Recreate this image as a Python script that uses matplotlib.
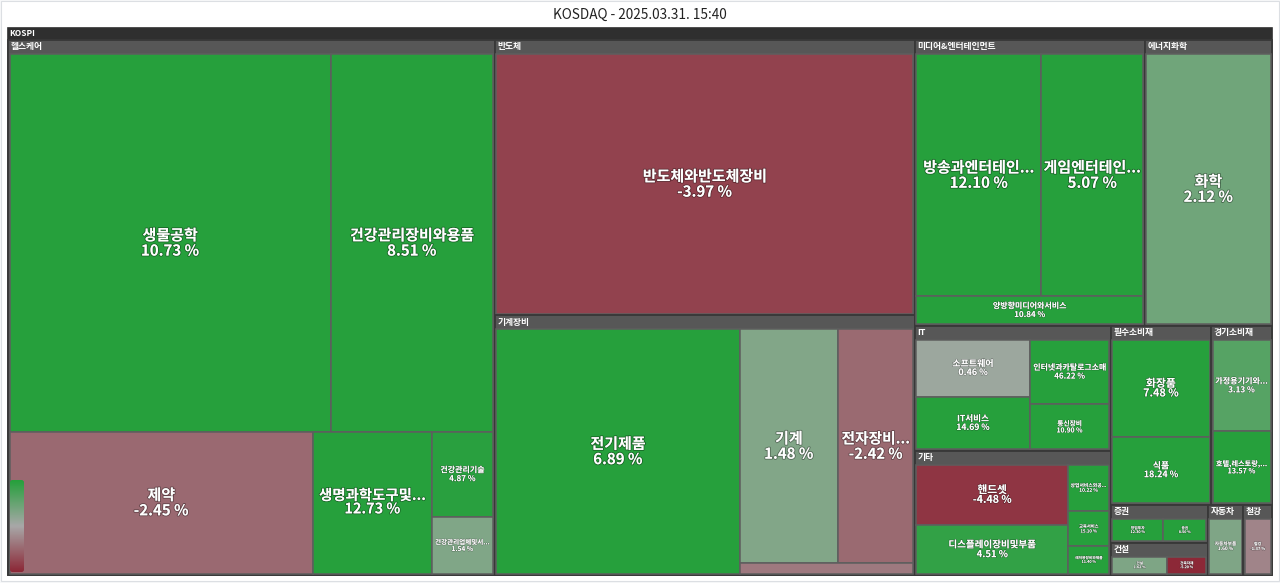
import numpy as np
import matplotlib
matplotlib.use("Agg")
import matplotlib.pyplot as plt
from matplotlib.patches import Rectangle, FancyBboxPatch
from matplotlib.colors import LinearSegmentedColormap
import matplotlib.patheffects as pe

plt.rcParams['font.family'] = ['Noto Sans CJK KR', 'DejaVu Sans']

# 업종(섹터) 목록
sectors = ['헬스케어', '반도체', '기계장비', '미디어&엔터테인먼트', '에너지화학', 'IT', '기타',
           '필수소비재', '경기소비재', '증권', '건설', '자동차', '철강']

# 세부 업종, 소속 섹터, 시가총액 비중, 등락률(%)
industries = ['생물공학', '건강관리장비와용품', '제약', '생명과학도구및서비스', '건강관리기술', '건강관리업체및서비스',
              '반도체와반도체장비',
              '전기제품', '기계', '전자장비와기기', '전기장비',
              '방송과엔터테인먼트', '게임엔터테인먼트', '양방향미디어와서비스',
              '화학',
              '소프트웨어', 'IT서비스', '인터넷과카탈로그소매', '통신장비',
              '핸드셋', '디스플레이장비및부품', '상업서비스와공급품', '교육서비스', '레저용장비와제품',
              '화장품', '식품',
              '가정용기기와용품', '호텔,레스토랑,레저',
              '창업투자', '증권',
              '건설', '건축자재',
              '자동차부품',
              '철강']
industry_sector = ['헬스케어'] * 6 + ['반도체'] + ['기계장비'] * 4 + ['미디어&엔터테인먼트'] * 3 + \
                  ['에너지화학'] + ['IT'] * 4 + ['기타'] * 5 + ['필수소비재'] * 2 + ['경기소비재'] * 2 + \
                  ['증권'] * 2 + ['건설'] * 2 + ['자동차'] + ['철강']
sizes = [1255, 635, 445, 174, 54, 36,
         1155,
         636, 245, 188, 20,
         324, 264, 68,
         363,
         75, 69, 59, 42,
         106, 85, 22, 17, 13,
         107, 72,
         61, 48,
         20, 17,
         18, 13,
         25,
         20]
changes = [10.73, 8.51, -2.45, 12.73, 4.87, 1.54,
           -3.97,
           6.89, 1.48, -2.42, -1.80,
           12.10, 5.07, 10.84,
           2.12,
           0.46, 14.69, 46.22, 10.90,
           -4.48, 4.51, 10.22, 15.10, 11.40,
           7.48, 18.24,
           3.13, 13.57,
           12.30, 8.50,
           1.62, -5.20,
           1.60,
           -1.37]

# 배치 구조: 'h' 가로 분할, 'v' 세로 분할
sector_tree = ('h', ['헬스케어',
                     ('v', ['반도체', '기계장비']),
                     ('v', [('h', ['미디어&엔터테인먼트', '에너지화학']),
                            ('h', [('v', ['IT', '기타']),
                                   ('v', [('h', ['필수소비재', '경기소비재']),
                                          ('h', [('v', ['증권', '건설']), '자동차', '철강'])])])])])
industry_trees = {
    '헬스케어': ('v', [('h', ['생물공학', '건강관리장비와용품']),
                      ('h', ['제약', '생명과학도구및서비스', ('v', ['건강관리기술', '건강관리업체및서비스'])])]),
    '반도체': ('h', ['반도체와반도체장비']),
    '기계장비': ('h', ['전기제품', ('v', [('h', ['기계', '전자장비와기기']), '전기장비'])]),
    '미디어&엔터테인먼트': ('v', [('h', ['방송과엔터테인먼트', '게임엔터테인먼트']), '양방향미디어와서비스']),
    '에너지화학': ('h', ['화학']),
    'IT': ('h', [('v', ['소프트웨어', 'IT서비스']), ('v', ['인터넷과카탈로그소매', '통신장비'])]),
    '기타': ('h', [('v', ['핸드셋', '디스플레이장비및부품']),
                  ('v', ['상업서비스와공급품', '교육서비스', '레저용장비와제품'])]),
    '필수소비재': ('v', ['화장품', '식품']),
    '경기소비재': ('v', ['가정용기기와용품', '호텔,레스토랑,레저']),
    '증권': ('h', ['창업투자', '증권']),
    '건설': ('h', ['건설', '건축자재']),
    '자동차': ('h', ['자동차부품']),
    '철강': ('h', ['철강']),
}

ind_size = dict(zip(industries, sizes))
ind_change = dict(zip(industries, changes))
sec_size = {s: 0 for s in sectors}
for name, sec in zip(industries, industry_sector):
    sec_size[sec] += ind_size[name]


def total(node, table):
    if isinstance(node, str):
        return table[node]
    return sum(total(k, table) for k in node[1])


def place(node, table, x, y, w, h, out):
    if isinstance(node, str):
        out.append((node, x, y, w, h))
        return
    d, kids = node
    s = total(node, table)
    pos = 0.0
    for k in kids:
        f = total(k, table) / s
        if d == 'h':
            place(k, table, x + pos * w, y, f * w, h, out)
        else:
            place(k, table, x, y + pos * h, w, f * h, out)
        pos += f


cmap = LinearSegmentedColormap.from_list('kr', ['#8c2837', '#a8a8a8', '#26a03c'])


def color_of(v):
    return cmap((np.clip(v, -5, 5) + 5) / 10)


W, H = 1280, 583
fig = plt.figure(figsize=(W / 100, H / 100), dpi=100, facecolor='#f7f8f9')
ax = fig.add_axes([0, 0, 1, 1])
ax.set_xlim(0, W)
ax.set_ylim(H, 0)
ax.axis('off')
renderer = fig.canvas.get_renderer()

# 바깥 카드
ax.add_patch(Rectangle((1, 1), W - 2, H - 3, facecolor='white', edgecolor='#dcdfe3', lw=0.8))
ax.text(W / 2, 15, 'KOSDAQ - 2025.03.31. 15:40', ha='center', va='center', fontsize=9.8, color='#222')

left, top, right, bottom = 8, 40, 1272, 575
ax.add_patch(Rectangle((left, 28), right - left, bottom - 28, facecolor='#2f2f2f', edgecolor='#2f2f2f', lw=1.2))
ax.text(left + 1, 34, 'KOSPI', ha='left', va='center', fontsize=6, color='white', fontweight='bold')

sector_rects = []
place(sector_tree, sec_size, left, top, right - left, bottom - top, sector_rects)

for sec, x, y, w, h in sector_rects:
    ax.add_patch(Rectangle((x, y), w, h, facecolor='#4f4f4f', edgecolor='#383838', lw=1.3))
    ax.add_patch(Rectangle((x + 1, y + 1), w - 2, 12.5, facecolor='#575757', edgecolor='none'))
    ax.text(x + 2.5, y + 7, sec, ha='left', va='center', fontsize=6.3, color='white', fontweight='bold')

    leaves = []
    place(industry_trees[sec], ind_size, x + 1.5, y + 14, w - 3, h - 15.5, leaves)
    for name, lx, ly, lw_, lh in leaves:
        chg = ind_change[name]
        ax.add_patch(Rectangle((lx, ly), lw_, lh, facecolor=color_of(chg), edgecolor='#5e5e5e', lw=1.1))
        if lh < 14 or lw_ < 18:
            continue
        px = min(15.0, np.sqrt(lw_ * lh) / 9.0, lh / 3.5)
        px = max(px, 3.6)
        fs = px * 0.72
        label = name
        t = ax.text(lx + lw_ / 2, ly + lh / 2, label, ha='center', va='center', fontsize=fs,
                    color='white', fontweight='bold')
        wpx = t.get_window_extent(renderer).width
        while wpx > lw_ - 4 and len(label) > 1:
            label = label[:-1]
            t.set_text(label + '...')
            wpx = t.get_window_extent(renderer).width
        shown = label + ('...' if label != name else '')
        t.set_text(f'{shown}\n{chg:.2f} %')
        t.set_linespacing(0.95)
        t.set_path_effects([pe.withStroke(linewidth=max(0.6, fs * 0.12), foreground=(0, 0, 0, 0.35))])

# 등락률 색상 범례
grad = np.linspace(1, 0, 100).reshape(-1, 1)
im = ax.imshow(grad, cmap=cmap, aspect='auto', extent=(10, 24, 572, 480), zorder=5)
clip = FancyBboxPatch((10, 480), 14, 92, boxstyle='round,pad=0,rounding_size=2.5',
                      transform=ax.transData, facecolor='none', edgecolor='none')
ax.add_patch(clip)
im.set_clip_path(clip)
ax.set_xlim(0, W)
ax.set_ylim(H, 0)

fig.savefig('out.png', dpi=100, facecolor=fig.get_facecolor())
